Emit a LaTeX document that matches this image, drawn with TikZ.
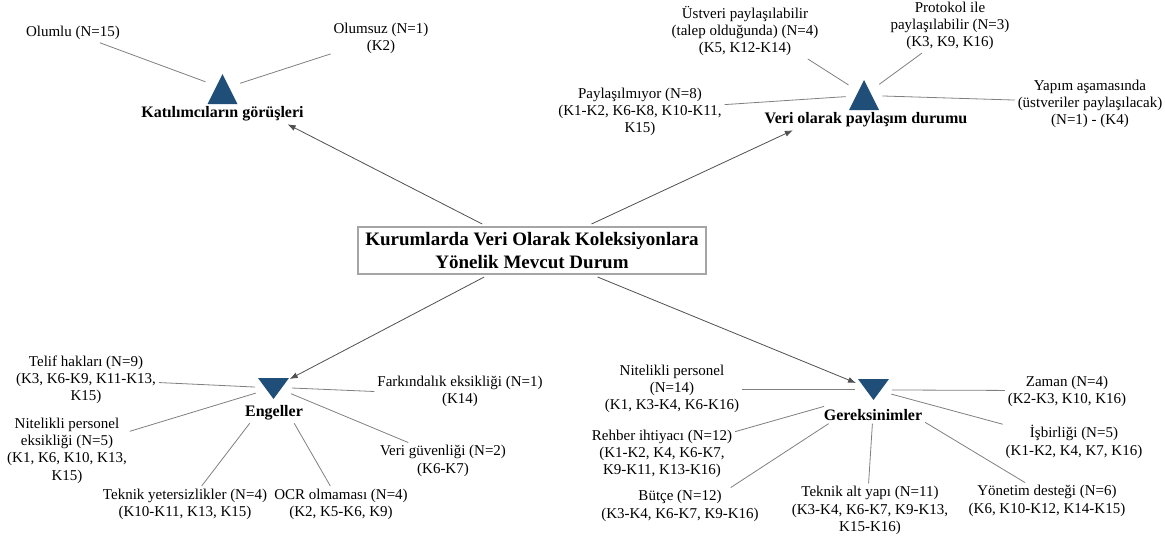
\documentclass[tikz,border=0pt]{standalone}
\usepackage{fontspec}
\setmainfont{Liberation Serif}
\usetikzlibrary{arrows.meta}
\definecolor{trifill}{RGB}{31,78,121}
\definecolor{linegray}{RGB}{128,128,128}
\definecolor{arrowgray}{RGB}{80,80,80}
\definecolor{boxgray}{RGB}{165,165,165}
\begin{document}
\begin{tikzpicture}[x=1pt,y=-1pt,
  txt/.style={align=center,inner sep=0pt,outer sep=3pt,font=\fontsize{15}{17.3}\selectfont},
  lab/.style={inner sep=0pt,outer sep=3pt,font=\fontsize{16}{18}\selectfont\bfseries},
  hub/.style={circle,minimum size=37pt,inner sep=0pt,outer sep=0pt},
  link/.style={draw=linegray,line width=0.8pt},
  arr/.style={draw=arrowgray,line width=0.8pt,-{Latex[length=8pt,width=6pt]}},
  titlebox/.style={draw=boxgray,line width=1.2pt,minimum width=348pt,minimum height=47pt,inner sep=0pt,outer sep=3pt,align=center,font=\fontsize{19}{23}\selectfont\bfseries},
  ]
\useasboundingbox[fill=white] (0,0) rectangle (1165,542);

% central node
\node[titlebox] (main) at (532,250.5) {Kurumlarda Veri Olarak Koleksiyonlara\\Yönelik Mevcut Durum};

% hubs (triangles)
\node[hub] (h1) at (222.5,89) {};
\node[hub] (h2) at (864,95) {};
\node[hub] (h3) at (273.5,388) {};
\node[hub] (h4) at (873.5,389) {};
\fill[trifill] (h1) ++(0,-15) -- ++(15,30) -- ++(-30,0) -- cycle;
\fill[trifill] (h2) ++(0,-15) -- ++(15,30) -- ++(-30,0) -- cycle;
\fill[trifill] (h3) ++(-15.5,-10) -- ++(31,0) -- ++(-15.5,21) -- cycle;
\fill[trifill] (h4) ++(-15.5,-10) -- ++(31,0) -- ++(-15.5,21) -- cycle;

% category labels
\node[lab] (l1) at (222.5,114) {Katılımcıların görüşleri};
\node[lab] (l2) at (866,120) {Veri olarak paylaşım durumu};
\node[lab] (l3) at (274,413) {Engeller};
\node[lab] (l4) at (873,415) {Gereksinimler};

% leaf texts
\node[txt] (olumlu) at (73,33) {Olumlu (N=15)};
\node[txt] (olumsuz) at (381,38.5) {Olumsuz (N=1)\\(K2)};
\node[txt] (ustveri) at (745,31) {Üstveri paylaşılabilir\\(talep olduğunda) (N=4)\\(K5, K12-K14)};
\node[txt] (protokol) at (950,26) {Protokol ile\\paylaşılabilir (N=3)\\(K3, K9, K16)};
\node[txt] (paylas) at (640,112) {Paylaşılmıyor (N=8)\\(K1-K2, K6-K8, K10-K11,\\K15)};
\node[txt] (yapim) at (1090,104) {Yapım aşamasında\\(üstveriler paylaşılacak)\\(N=1) - (K4)};
\node[txt] (telif) at (86,380) {Telif hakları (N=9)\\(K3, K6-K9, K11-K13,\\K15)};
\node[txt] (fark) at (460,391.5) {Farkındalık eksikliği (N=1)\\(K14)};
\node[txt] (nit1) at (67,450.5) {Nitelikli personel\\eksikliği (N=5)\\(K1, K6, K10, K13,\\K15)};
\node[txt] (verig) at (443,461) {Veri güvenliği (N=2)\\(K6-K7)};
\node[txt] (tek1) at (185,504.5) {Teknik yetersizlikler (N=4)\\(K10-K11, K13, K15)};
\node[txt] (ocr) at (341,504.5) {OCR olmaması (N=4)\\(K2, K5-K6, K9)};
\node[txt] (nit2) at (672,389) {Nitelikli personel\\(N=14)\\(K1, K3-K4, K6-K16)};
\node[txt] (rehber) at (662,454) {Rehber ihtiyacı (N=12)\\(K1-K2, K4, K6-K7,\\K9-K11, K13-K16)};
\node[txt] (butce) at (680,506) {Bütçe (N=12)\\(K3-K4, K6-K7, K9-K16)};
\node[txt] (tek2) at (870,510.5) {Teknik alt yapı (N=11)\\(K3-K4, K6-K7, K9-K13,\\K15-K16)};
\node[txt] (yonetim) at (1047,501) {Yönetim desteği (N=6)\\(K6, K10-K12, K14-K15)};
\node[txt] (isbir) at (1074,442) {İşbirliği (N=5)\\(K1-K2, K4, K7, K16)};
\node[txt] (zaman) at (1067,391.5) {Zaman (N=4)\\(K2-K3, K10, K16)};

% arrows from the central node
\draw[arr] (main.152.5) -- (l1.-9.1);
\draw[arr] (main.24.9) -- (l2.-172.6);
\draw[arr] (main.-151.7) -- (h3.29.7);
\draw[arr] (main.-22.6) -- (h4.161.1);

% links
\draw[link] (olumlu.-20.6) -- (h1.157.6);
\draw[link] (olumsuz.197.9) -- (h1.18.4);
\draw[link] (ustveri.-24.2) -- (h2.147.1);
\draw[link] (protokol.-136.8) -- (h2.35.2);
\draw[link] (paylas.5.4) -- (h2.185.2);
\draw[link] (yapim.177.9) -- (h2.-3.2);
\draw[link] (telif.-2.4) -- (h3.177.2);
\draw[link] (fark.180) -- (h3.0);
\draw[link] (nit1.17.2) -- (h3.196);
\draw[link] (verig.152.2) -- (h3.-18.9);
\draw[link] (tek1.48.9) -- (l3.-157.8);
\draw[link] (ocr.120.3) -- (l3.-27.6);
\draw[link] (nit2.0) -- (h4.180);
\draw[link] (rehber.17.7) -- (l4.170.4);
\draw[link] (butce.20.8) -- (l4.-169.3);
\draw[link] (tek2.93.6) -- (l4.-94.8);
\draw[link] (yonetim.140) -- (l4.-8.4);
\draw[link] (isbir.166.3) -- (h4.-16);
\draw[link] (zaman.179.6) -- (h4.-3.3);
\end{tikzpicture}
\end{document}
